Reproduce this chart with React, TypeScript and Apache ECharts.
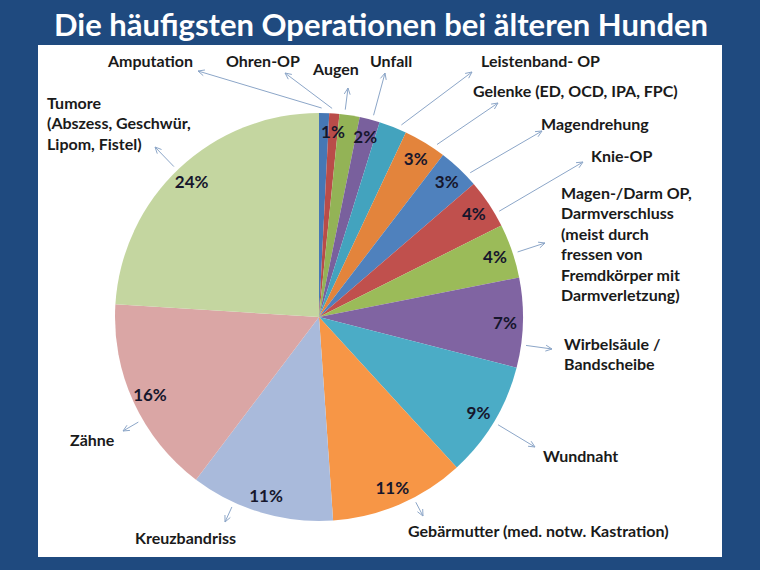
import React, { useEffect, useRef } from 'react';
import * as echarts from 'echarts';

// ---- data ----
const categories = [
  'Amputation',
  'Ohren-OP',
  'Augen',
  'Unfall',
  'Leistenband- OP',
  'Gelenke (ED, OCD, IPA, FPC)',
  'Magendrehung',
  'Knie-OP',
  'Magen-/Darm OP,\nDarmverschluss\n(meist durch\nfressen von\nFremdkörper mit\nDarmverletzung)',
  'Wirbelsäule /\nBandscheibe',
  'Wundnaht',
  'Gebärmutter (med. notw. Kastration)',
  'Kreuzbandriss',
  'Zähne',
  'Tumore\n(Abszess, Geschwür,\nLipom, Fistel)',
];
const shares = [0.8, 0.8, 1.6, 1.6, 2.2, 3.4, 3.3, 3.9, 4.3, 7.1, 9.2, 10.7, 11.4, 15.7, 24.0];
const showPercent = [false, true, false, true, false, true, true, true, true, true, true, true, true, true, true];
const title = 'Die häufigsten Operationen bei älteren Hunden';

// ---- styles / layout ----
const sliceColors = [
  '#4677B4', '#B94C49', '#93B356', '#79609D', '#43A3BE', '#E3843C',
  '#4F81BD', '#C0504D', '#9BBB59', '#8064A2', '#4BACC6', '#F79646',
  '#A9BADB', '#DAA6A5', '#C4D6A0',
];
const labelAnchors: [number, number][] = [
  [108, 60], [226, 60], [313, 68], [370, 60], [481, 60], [473, 90], [541, 123],
  [591, 155], [561, 192], [564, 343], [543, 455], [408, 530], [135, 537], [70, 439], [47, 102],
];
const arrowHeads: [number, number][] = [
  [198, 71], [285, 73], [348, 88], [385, 73], [472, 72], [498, 103], [542, 131],
  [583, 162], [545, 243], [552, 349], [535, 447], [423, 516], [225, 522], [123, 431], [155, 147],
];
const CX = 319, CY = 317, R = 204;
const LINE_H = 20.5;

export default function App() {
  const ref = useRef<HTMLDivElement>(null);
  useEffect(() => {
    document.body.style.margin = '0';
    if (!ref.current) return;
    const chart = echarts.init(ref.current, undefined, { renderer: 'svg' });

    const total = shares.reduce((a, b) => a + b, 0);
    const graphics: any[] = [
      { type: 'rect', shape: { x: 38, y: 45, width: 684, height: 512 }, style: { fill: '#ffffff' }, z: -10 },
      {
        type: 'text', x: 381, y: 24, z: 10,
        style: { text: title, fill: '#ffffff', fontFamily: 'Lato', fontWeight: 'bold', fontSize: 31, align: 'center', verticalAlign: 'middle' },
      },
    ];
    let acc = 0;
    shares.forEach((v, i) => {
      const start = (acc / total) * 360;
      const end = ((acc + v) / total) * 360;
      acc += v;
      const head = arrowHeads[i];
      // angle (clockwise from 12 o'clock) of the label direction, kept inside the slice
      let hAng = (Math.atan2(head[0] - CX, -(head[1] - CY)) * 180) / Math.PI;
      if (hAng < start - 180) hAng += 360;
      if (hAng > end + 180) hAng -= 360;
      const m = (end - start) * 0.25;
      const ang = (Math.min(Math.max(hAng, start + m), end - m) * Math.PI) / 180;
      const tail = [CX + (R + 5) * Math.sin(ang), CY - (R + 5) * Math.cos(ang)];
      const dx = tail[0] - head[0], dy = tail[1] - head[1];
      const len = Math.hypot(dx, dy) || 1;
      const ux = dx / len, uy = dy / len;
      const a = (25 * Math.PI) / 180, L = 7;
      const rot = (s: number) => [
        head[0] + L * (ux * Math.cos(s * a) - uy * Math.sin(s * a)),
        head[1] + L * (ux * Math.sin(s * a) + uy * Math.cos(s * a)),
      ];
      graphics.push({
        type: 'line', z: 5,
        shape: { x1: tail[0], y1: tail[1], x2: head[0], y2: head[1] },
        style: { stroke: '#8CA6C8', lineWidth: 1 },
      });
      graphics.push({
        type: 'polyline', z: 5,
        shape: { points: [rot(1), head, rot(-1)] },
        style: { stroke: '#8CA6C8', lineWidth: 1, fill: null },
      });
      const [lx, ly] = labelAnchors[i];
      graphics.push({
        type: 'text', x: lx, y: ly - LINE_H / 2, z: 6,
        style: {
          text: categories[i], fill: '#1a1a1a', fontFamily: 'Lato', fontWeight: 'bold', fontSize: 16,
          align: 'left', verticalAlign: 'top', lineHeight: LINE_H,
        },
      });
    });

    chart.setOption({
      animation: false,
      backgroundColor: '#1F4A7F',
      graphic: { elements: graphics },
      series: [
        {
          type: 'pie', center: [CX, CY], radius: R, startAngle: 90, clockwise: true, silent: true,
          avoidLabelOverlap: false, label: { show: false }, labelLine: { show: false },
          data: shares.map((v, i) => ({ value: v, name: categories[i], itemStyle: { color: sliceColors[i] } })),
          z: 2,
        },
        {
          type: 'pie', center: [CX, CY], radius: [162, 204], startAngle: 90, clockwise: true, silent: true,
          avoidLabelOverlap: false, itemStyle: { color: 'rgba(0,0,0,0)' }, labelLine: { show: false },
          label: {
            show: true, position: 'inside', rotate: 0,
            formatter: (p: any) => Math.round(p.value) + '%',
            fontFamily: 'Lato', fontWeight: 'bold', fontSize: 17, color: '#16162c',
          },
          data: shares.map((v, i) => ({ value: v, name: categories[i], label: { show: showPercent[i] } })),
          z: 3,
        },
      ],
    });
    return () => chart.dispose();
  }, []);
  return <div ref={ref} style={{ width: 760, height: 570 }} />;
}
